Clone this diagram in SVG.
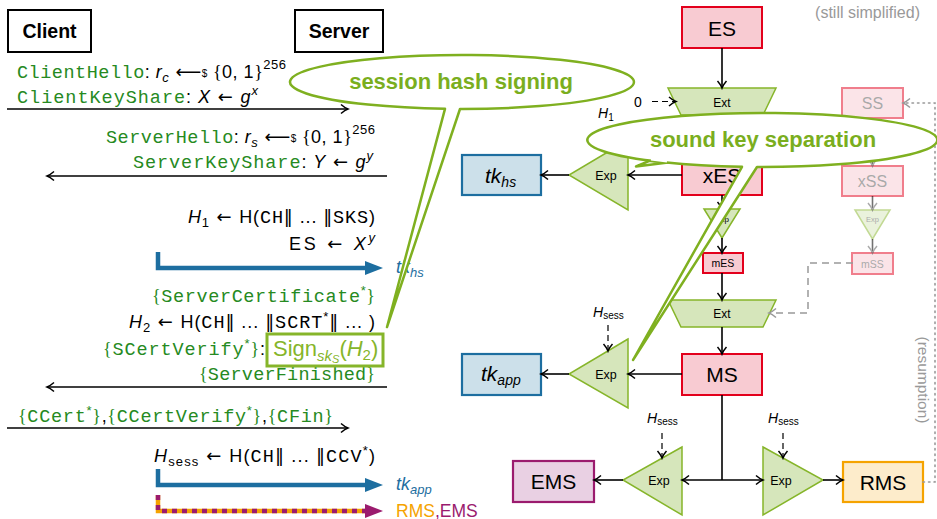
<svg xmlns="http://www.w3.org/2000/svg" width="937" height="519" viewBox="0 0 937 519">
<style>
text{font-family:"Liberation Sans","DejaVu Sans",sans-serif;fill:#000}
.tt{font-family:"Liberation Mono","DejaVu Sans Mono",monospace;font-size:18.5px}
.br{font-family:"Liberation Serif","DejaVu Serif",serif}
.ar{font-family:"DejaVu Sans",sans-serif}
.g{fill:#268a22}
.it{font-style:italic}
.ln{fill:none;stroke:#000;stroke-width:1.6}
.dash{fill:none;stroke:#000;stroke-width:1.2;stroke-dasharray:6 4}
.gdash{fill:none;stroke:#999;stroke-width:1.5;stroke-dasharray:7 5}
.dot{fill:none;stroke:#999;stroke-width:1.6;stroke-dasharray:1.5 4;stroke-linecap:round}
.gn{fill:#d6e6bb;stroke:#86b52a;stroke-width:1.5}
.red{fill:#f8cbd2;stroke:#e3001c;stroke-width:2}
.blue{fill:#cce0ea;stroke:#1d6ea0;stroke-width:2.2}
.ems{fill:#e9d0e3;stroke:#9b1b6e;stroke-width:2.2}
.rms{fill:#fdeccb;stroke:#f5a300;stroke-width:2.2}
.party{fill:#fff;stroke:#000;stroke-width:2}
.call{fill:#fff;stroke:#7fb020;stroke-width:2.5;stroke-linejoin:round}
.ct{font-weight:bold;font-size:22px;fill:#7aae1e}
.c{text-anchor:middle}
.e{text-anchor:end}
</style>
<defs>
<marker id="ah" markerUnits="userSpaceOnUse" markerWidth="12" markerHeight="12" refX="10" refY="6" orient="auto"><path d="M3,1.5 Q7,5 10,6 Q7,7 3,10.5" fill="none" stroke="#000" stroke-width="1.5"/></marker>
<marker id="ahg" markerUnits="userSpaceOnUse" markerWidth="12" markerHeight="12" refX="10" refY="6" orient="auto"><path d="M3,1.5 Q7,5 10,6 Q7,7 3,10.5" fill="none" stroke="#999" stroke-width="1.5"/></marker>
<marker id="ahf" markerUnits="userSpaceOnUse" markerWidth="12" markerHeight="12" refX="10" refY="6" orient="auto"><path d="M3,1.5 Q7,5 10,6 Q7,7 3,10.5" fill="none" stroke="#666" stroke-width="1.5"/></marker>
<marker id="bh" markerUnits="userSpaceOnUse" markerWidth="20" markerHeight="16" refX="5" refY="8" orient="auto"><path d="M0,1 L18,8 L0,15 Z" fill="#1d6ea0"/></marker>
<marker id="ph" markerUnits="userSpaceOnUse" markerWidth="20" markerHeight="16" refX="5" refY="8" orient="auto"><path d="M0,1 L18,8 L0,15 Z" fill="#9b1b6e"/></marker>
</defs>

<!-- parties -->
<g id="client"><rect class="party" x="8" y="10" width="83" height="42"/><text class="c" x="49.5" y="38" font-size="19.5" font-weight="bold">Client</text></g>
<g id="server"><rect class="party" x="295" y="10" width="88" height="42"/><text class="c" x="339" y="38" font-size="19.5" font-weight="bold">Server</text></g>

<!-- message texts -->
<g id="messages" font-size="18">
<text x="17" y="78" font-size="18" textLength="269" lengthAdjust="spacing"><tspan class="tt g">ClientHello</tspan>: <tspan class="it">r</tspan><tspan class="it" font-size="13" dy="4">c</tspan><tspan class="ar" dy="-4"> ⟵</tspan><tspan font-size="10" dy="-1">$</tspan><tspan class="br" dy="1"> {</tspan>0, 1<tspan class="br">}</tspan><tspan font-size="13" dy="-9">256</tspan></text>
<text x="17" y="103" font-size="18" textLength="241" lengthAdjust="spacing"><tspan class="tt g">ClientKeyShare</tspan>: <tspan class="it">X</tspan><tspan class="ar"> ← </tspan><tspan class="it">g</tspan><tspan class="it" font-size="13" dy="-8">x</tspan></text>
<text class="e" x="375" y="143" font-size="18" textLength="269" lengthAdjust="spacing"><tspan class="tt g">ServerHello</tspan>: <tspan class="it">r</tspan><tspan class="it" font-size="13" dy="4">s</tspan><tspan class="ar" dy="-4"> ⟵</tspan><tspan font-size="10" dy="-1">$</tspan><tspan class="br" dy="1"> {</tspan>0, 1<tspan class="br">}</tspan><tspan font-size="13" dy="-9">256</tspan></text>
<text class="e" x="373" y="168" font-size="18" textLength="240" lengthAdjust="spacing"><tspan class="tt g">ServerKeyShare</tspan>: <tspan class="it">Y</tspan><tspan class="ar"> ← </tspan><tspan class="it">g</tspan><tspan class="it" font-size="13" dy="-8">y</tspan></text>
<text class="e" x="375" y="223" font-size="18" textLength="187" lengthAdjust="spacing"><tspan class="it">H</tspan><tspan font-size="13" dy="4">1</tspan><tspan class="ar" dy="-4"> ← </tspan>H(<tspan class="tt">CH</tspan><tspan class="ar">‖</tspan> ... <tspan class="ar">‖</tspan><tspan class="tt">SKS</tspan>)</text>
<text class="e" x="375" y="250" font-size="18" textLength="86" lengthAdjust="spacing">ES<tspan class="ar"> ← </tspan><tspan class="it">X</tspan><tspan class="it" font-size="13" dy="-8">y</tspan></text>
<text class="e g" x="375" y="302" font-size="18" textLength="223" lengthAdjust="spacing"><tspan class="br">{</tspan><tspan class="tt">ServerCertificate</tspan><tspan font-size="13" dy="-7">*</tspan><tspan class="br" dy="7">}</tspan></text>
<text class="e" x="375" y="328" font-size="18" textLength="246" lengthAdjust="spacing"><tspan class="it">H</tspan><tspan font-size="13" dy="4">2</tspan><tspan class="ar" dy="-4"> ← </tspan>H(<tspan class="tt">CH</tspan><tspan class="ar">‖</tspan> ... <tspan class="ar">‖</tspan><tspan class="tt">SCRT</tspan><tspan font-size="13" dy="-7">*</tspan><tspan class="ar" dy="7">‖</tspan> ... )</text>
<text class="e" x="265" y="355" font-size="18" textLength="162" lengthAdjust="spacing"><tspan class="br g">{</tspan><tspan class="tt g">SCertVerify</tspan><tspan class="g" font-size="13" dy="-7">*</tspan><tspan class="br g" dy="7">}</tspan>:</text>
<text class="e g" x="375" y="380" font-size="18" textLength="176" lengthAdjust="spacing"><tspan class="br">{</tspan><tspan class="tt">ServerFinished</tspan><tspan class="br">}</tspan></text>
<text x="18" y="422" font-size="18" textLength="315" lengthAdjust="spacing"><tspan class="br g">{</tspan><tspan class="tt g">CCert</tspan><tspan class="g" font-size="13" dy="-7">*</tspan><tspan class="br g" dy="7">}</tspan>,<tspan class="br g">{</tspan><tspan class="tt g">CCertVerify</tspan><tspan class="g" font-size="13" dy="-7">*</tspan><tspan class="br g" dy="7">}</tspan>,<tspan class="br g">{</tspan><tspan class="tt g">CFin</tspan><tspan class="br g">}</tspan></text>
<text class="e" x="375" y="462" font-size="18" textLength="221" lengthAdjust="spacing"><tspan class="it">H</tspan><tspan font-size="13" dy="4">sess</tspan><tspan class="ar" dy="-4"> ← </tspan>H(<tspan class="tt">CH</tspan><tspan class="ar">‖</tspan> ... <tspan class="ar">‖</tspan><tspan class="tt">CCV</tspan><tspan font-size="13" dy="-7">*</tspan><tspan dy="7">)</tspan></text>
</g>

<!-- signature box -->
<g id="sign">
<rect x="267" y="334" width="116" height="32" fill="none" stroke="#86b52a" stroke-width="3"/>
<text x="273" y="356" font-size="22" style="fill:#86b52a">Sign<tspan class="it" font-size="15" dy="5">sk</tspan><tspan class="it" font-size="11" dy="2">S</tspan><tspan dy="-7">(</tspan><tspan class="it">H</tspan><tspan font-size="15" dy="4">2</tspan><tspan dy="-4">)</tspan></text>
</g>

<!-- key outputs on the left -->
<g id="left-keys" font-size="18">
<text x="396" y="273" font-size="18" style="fill:#1d6ea0"><tspan class="it">tk</tspan><tspan class="it" font-size="13" dy="4">hs</tspan></text>
<text x="396" y="490" font-size="18" style="fill:#1d6ea0"><tspan class="it">tk</tspan><tspan class="it" font-size="13" dy="4">app</tspan></text>
<text x="396" y="516.5" font-size="17.5"><tspan style="fill:#f5a300">RMS</tspan><tspan style="fill:#9b1b6e">,EMS</tspan></text>
</g>

<!-- right-side nodes -->
<text x="920" y="18" class="e" font-size="16" style="fill:#999">(still simplified)</text>

<g id="ES"><rect class="red" x="682" y="7" width="80" height="41"/><text class="c" x="722" y="35.5" font-size="21">ES</text></g>
<g id="Ext1"><path class="gn" d="M668,88 H776 L763,115 H681 Z"/><text class="c" x="722" y="107" font-size="12">Ext</text></g>
<g id="zero"><text x="634" y="107" font-size="14">0</text></g>
<g id="H1"><text x="598" y="118" font-size="14"><tspan class="it">H</tspan><tspan font-size="10" dy="3">1</tspan></text></g>
<g id="xES"><rect class="red" x="682" y="155" width="80" height="40"/><text class="c" x="722" y="183" font-size="21">xES</text></g>
<g id="Exp-hs"><path class="gn" d="M628,140 L569,175 L628,210 Z"/><text class="c" x="606" y="179.5" font-size="12.5">Exp</text></g>
<g id="tk-hs"><rect class="blue" x="462" y="155" width="79" height="40"/><text x="485" y="182.5" font-size="21"><tspan class="it">tk</tspan><tspan class="it" font-size="14" dy="4">hs</tspan></text></g>
<g id="Exp-m"><path class="gn" d="M704,209 H740 L722,238 Z"/><text class="c" x="722" y="222" font-size="8">Exp</text></g>
<g id="mES"><rect class="red" x="703" y="253" width="40" height="20"/><text class="c" x="723" y="267" font-size="10.5">mES</text></g>
<g id="Ext2"><path class="gn" d="M668,300 H776 L763,327 H681 Z"/><text class="c" x="722" y="318" font-size="12">Ext</text></g>
<g id="MS"><rect class="red" x="682" y="354" width="80" height="41"/><text class="c" x="722" y="382" font-size="21">MS</text></g>
<g id="Exp-app"><path class="gn" d="M628,339 L569,374 L628,408 Z"/><text class="c" x="606" y="378.5" font-size="12.5">Exp</text></g>
<g id="tk-app"><rect class="blue" x="462" y="354" width="79" height="41"/><text x="481" y="381" font-size="21"><tspan class="it">tk</tspan><tspan class="it" font-size="14" dy="4">app</tspan></text></g>
<g id="Hsess1"><text x="593" y="317" font-size="14"><tspan class="it">H</tspan><tspan font-size="10" dy="2">sess</tspan></text></g>
<g id="Exp-ems"><path class="gn" d="M682,447 L623,480 L682,515 Z"/><text class="c" x="659" y="484.5" font-size="12.5">Exp</text></g>
<g id="Exp-rms"><path class="gn" d="M763,447 L823,480 L763,515 Z"/><text class="c" x="781" y="484.5" font-size="12.5">Exp</text></g>
<g id="Hsess2"><text x="647" y="423" font-size="14"><tspan class="it">H</tspan><tspan font-size="10" dy="2">sess</tspan></text></g>
<g id="Hsess3"><text x="768" y="423" font-size="14"><tspan class="it">H</tspan><tspan font-size="10" dy="2">sess</tspan></text></g>
<g id="EMS"><rect class="ems" x="513" y="461" width="81" height="41"/><text class="c" x="553.5" y="489" font-size="21">EMS</text></g>
<g id="RMS"><rect class="rms" x="843" y="462" width="80" height="40"/><text class="c" x="883" y="489.5" font-size="21">RMS</text></g>

<g id="resumption-branch" opacity="0.5">
<g id="SS"><rect class="red" x="842" y="88" width="61" height="30"/><text class="c" x="872.5" y="109" font-size="16" style="fill:#555">SS</text></g>
<g id="xSS"><rect class="red" x="842" y="166" width="61" height="30"/><text class="c" x="872.5" y="187" font-size="16" style="fill:#555">xSS</text></g>
<g id="Exp-s"><path class="gn" d="M855,210 H890 L872.5,239 Z"/><text class="c" x="872.5" y="222" font-size="7.5" style="fill:#555">Exp</text></g>
<g id="mSS"><rect class="red" x="852" y="253" width="41" height="21"/><text class="c" x="872.5" y="267.5" font-size="10.5" style="fill:#555">mSS</text></g>
</g>
<text transform="translate(918,380) rotate(90)" class="c" font-size="15.5" style="fill:#999">(resumption)</text>

<!-- connectors -->
<g id="connectors">
<path class="ln" d="M7,109 H348" marker-end="url(#ah)"/>
<path class="ln" d="M387,176 H47" marker-end="url(#ah)"/>
<path class="ln" d="M387,387 H47" marker-end="url(#ah)"/>
<path class="ln" d="M7,428 H348" marker-end="url(#ah)"/>
<path d="M158,252 V268 H370" fill="none" stroke="#1d6ea0" stroke-width="4.5" marker-end="url(#bh)"/>
<path d="M158,469 V485 H370" fill="none" stroke="#1d6ea0" stroke-width="4.5"  marker-end="url(#bh)"/>
<path d="M158,495 V511 H370" fill="none" stroke="#f5a300" stroke-width="4.5"/>
<path d="M158,495 V511 H370" fill="none" stroke="#9b1b6e" stroke-width="4.5" stroke-dasharray="5 5" stroke-dashoffset="-10" marker-end="url(#ph)"/>

<path class="ln" d="M722,48 V88" marker-end="url(#ah)"/>
<path class="dash" d="M652,101.5 H676" stroke-dasharray="8 6" marker-end="url(#ah)"/>
<path class="ln" d="M722,115 V155" marker-end="url(#ah)"/>
<path class="ln" d="M682,175 H628" marker-end="url(#ah)"/>
<path class="ln" d="M569,175 H541" marker-end="url(#ah)"/>
<path class="ln" d="M722,195 V209" marker-end="url(#ah)"/>
<path class="ln" d="M722,238 V253" marker-end="url(#ah)"/>
<path class="ln" d="M722,273 V300" marker-end="url(#ah)"/>
<path class="gdash" d="M853,263 H808 V313 H769" marker-end="url(#ahg)"/>
<path class="ln" d="M722,327 V354" marker-end="url(#ah)"/>
<path class="ln" d="M682,374 H628" marker-end="url(#ah)"/>
<path class="ln" d="M569,374 H541" marker-end="url(#ah)"/>
<path class="dash" d="M608,325 V351" marker-end="url(#ah)"/>
<path class="ln" d="M722,395 V480"/>
<path class="ln" d="M722,480 H682" marker-end="url(#ah)"/>
<path class="ln" d="M722,480 H763" marker-end="url(#ah)"/>
<path class="ln" d="M623,480 H594" marker-end="url(#ah)"/>
<path class="ln" d="M823,480 H843" marker-end="url(#ah)"/>
<path class="dash" d="M662,433 V458" marker-end="url(#ah)"/>
<path class="dash" d="M783,433 V458" marker-end="url(#ah)"/>
<g opacity="0.55">
<path class="ln" d="M872.5,118 V166" stroke="#555" marker-end="url(#ahf)"/>
<path class="ln" d="M872.5,196 V210" stroke="#555" marker-end="url(#ahf)"/>
<path class="ln" d="M872.5,239 V253" stroke="#555" marker-end="url(#ahf)"/>
</g>
<path class="dot" d="M923,482 H935 V103 H903" marker-end="url(#ahg)"/>
</g>

<!-- callouts -->
<g id="callout-signing">
<path class="call" d="M445,108.87 L387,327 L460,109 A172,27 0 1 0 445,108.87 Z"/>
<text class="ct c" x="461" y="89">session hash signing</text>
</g>
<g id="callout-separation">
<path class="call" d="M650,160.7 L636,166.5 L668,162.6 Z" />
<path class="call" d="M742,166.82 L633,360 L757,166.99 A175,27 0 1 0 742,166.82 Z"/>
<path d="M651,159 L667,161" stroke="#fff" stroke-width="3"/>
<text class="ct c" x="763" y="147">sound key separation</text>
</g>
</svg>
